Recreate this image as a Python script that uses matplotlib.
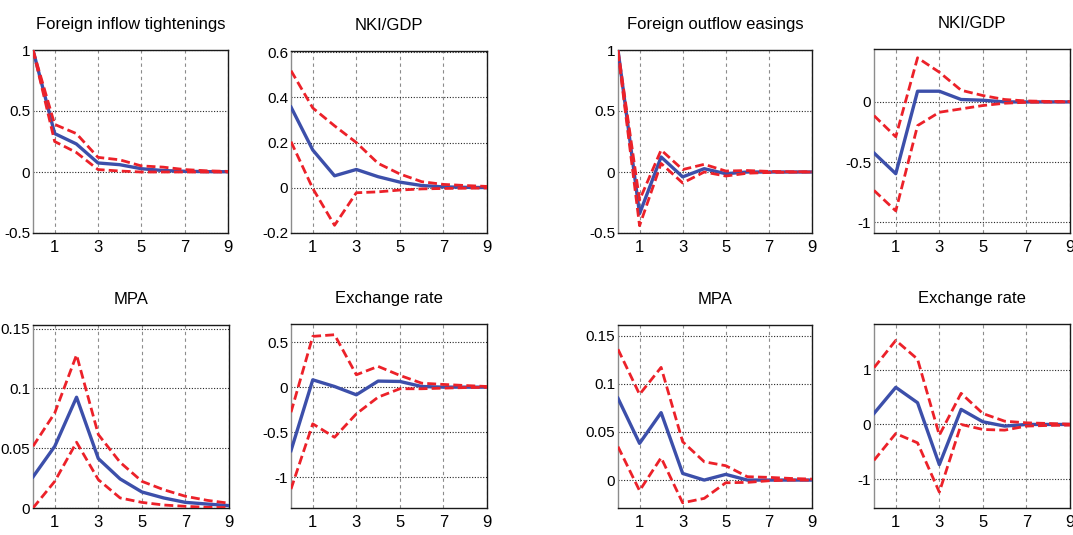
"""Impulse responses: foreign inflow tightenings vs foreign outflow easings (8 panels)."""
import matplotlib
matplotlib.use("Agg")
import matplotlib.pyplot as plt
from matplotlib.ticker import FuncFormatter

plt.rcParams.update({
    "font.family": ["Liberation Sans", "DejaVu Sans"],
    "font.size": 12,
})

horizon = list(range(10))

# left block: foreign inflow tightenings
inflow_med = [1.0, 0.315, 0.23, 0.074, 0.06, 0.027, 0.012, 0.006, 0.003, 0.002]
inflow_hi = [1.0, 0.39, 0.315, 0.12, 0.10, 0.05, 0.04, 0.02, 0.01, 0.005]
inflow_lo = [1.0, 0.25, 0.16, 0.02, 0.008, 0.0, 0.0, 0.0, 0.0, 0.0]

nki_in_med = [0.357, 0.167, 0.053, 0.081, 0.049, 0.025, 0.01, 0.004, 0.002, 0.001]
nki_in_hi = [0.518, 0.353, 0.274, 0.20, 0.108, 0.061, 0.027, 0.015, 0.01, 0.006]
nki_in_lo = [0.204, -0.003, -0.166, -0.022, -0.018, -0.01, -0.005, -0.003, -0.002, -0.001]

mpa_in_med = [0.026, 0.0516, 0.0926, 0.0413, 0.0243, 0.0134, 0.0084, 0.0047, 0.0033, 0.002]
mpa_in_hi = [0.0516, 0.0795, 0.128, 0.0614, 0.0382, 0.0223, 0.0153, 0.0098, 0.0064, 0.004]
mpa_in_lo = [0.0, 0.0223, 0.055, 0.0237, 0.0084, 0.0047, 0.0025, 0.0014, 0.0006, 0.0003]

fx_in_med = [-0.704, 0.081, 0.007, -0.085, 0.067, 0.063, 0.007, 0.0, 0.0, 0.0]
fx_in_hi = [-0.278, 0.563, 0.581, 0.137, 0.23, 0.13, 0.044, 0.03, 0.018, 0.007]
fx_in_lo = [-1.13, -0.407, -0.556, -0.296, -0.111, -0.018, -0.018, -0.011, -0.005, -0.002]

# right block: foreign outflow easings
outflow_med = [1.0, -0.342, 0.123, -0.04, 0.027, -0.014, 0.0, 0.0, 0.0, 0.0]
outflow_hi = [1.0, -0.23, 0.18, 0.02, 0.063, 0.008, 0.012, 0.005, 0.002, 0.002]
outflow_lo = [0.98, -0.44, 0.07, -0.09, 0.0, -0.033, -0.01, -0.004, -0.001, 0.0]

nki_out_med = [-0.425, -0.597, 0.089, 0.089, 0.02, 0.014, 0.0, 0.0, 0.0, 0.0]
nki_out_hi = [-0.114, -0.29, 0.367, 0.247, 0.097, 0.053, 0.02, 0.008, 0.004, 0.003]
nki_out_lo = [-0.736, -0.906, -0.197, -0.086, -0.058, -0.03, -0.011, -0.003, -0.001, 0.0]

mpa_out_med = [0.0849, 0.0381, 0.07, 0.0069, 0.0, 0.0059, 0.0, 0.0, 0.0, 0.0]
mpa_out_hi = [0.1358, 0.089, 0.117, 0.0398, 0.019, 0.0149, 0.0035, 0.0028, 0.0017, 0.001]
mpa_out_lo = [0.0347, -0.011, 0.0232, -0.0236, -0.019, -0.0028, -0.0024, -0.0007, 0.0, 0.0]

fx_out_med = [0.202, 0.68, 0.398, -0.736, 0.276, 0.049, -0.03, 0.0, 0.0, 0.0]
fx_out_hi = [1.04, 1.54, 1.196, -0.196, 0.57, 0.2, 0.06, 0.03, 0.018, 0.006]
fx_out_lo = [-0.656, -0.166, -0.337, -1.24, 0.0, -0.092, -0.104, -0.03, -0.018, -0.012]

# (title, med, hi, lo, ylim, yticks, box in px: left, right, top, bottom)
panels = [
    ("Foreign inflow tightenings", inflow_med, inflow_hi, inflow_lo,
     (-0.5, 1.0), [-0.5, 0, 0.5, 1], (33, 228, 50, 233)),
    ("NKI/GDP", nki_in_med, nki_in_hi, nki_in_lo,
     (-0.2, 0.605), [-0.2, 0, 0.2, 0.4, 0.6], (291, 487, 51, 233)),
    ("Foreign outflow easings", outflow_med, outflow_hi, outflow_lo,
     (-0.5, 1.0), [-0.5, 0, 0.5, 1], (618, 812, 50, 233)),
    ("NKI/GDP", nki_out_med, nki_out_hi, nki_out_lo,
     (-1.09, 0.44), [-1, -0.5, 0], (874, 1070, 49, 233)),
    ("MPA", mpa_in_med, mpa_in_hi, mpa_in_lo,
     (0, 0.153), [0, 0.05, 0.1, 0.15], (33, 229, 325, 508)),
    ("Exchange rate", fx_in_med, fx_in_hi, fx_in_lo,
     (-1.34, 0.7), [-1, -0.5, 0, 0.5], (291, 487, 324, 508)),
    ("MPA", mpa_out_med, mpa_out_hi, mpa_out_lo,
     (-0.029, 0.161), [0, 0.05, 0.1, 0.15], (618, 812, 325, 508)),
    ("Exchange rate", fx_out_med, fx_out_hi, fx_out_lo,
     (-1.53, 1.84), [-1, 0, 1], (874, 1070, 324, 508)),
]

W, H = 1073, 535
fig = plt.figure(figsize=(W / 100, H / 100), dpi=100)

BLUE = "#3C4FAA"
RED = "#EC2129"

for title, med, hi, lo, ylim, yticks, (l, r, t, b) in panels:
    ax = fig.add_axes([l / W, 1 - b / H, (r - l) / W, (b - t) / H])
    ax.plot(horizon, med, color=BLUE, lw=2.4, zorder=3)
    for band in (hi, lo):
        ax.plot(horizon, band, color=RED, lw=2.0, ls=(0, (3.2, 1.5)), zorder=4)

    ax.set_xlim(0, 9)
    ax.set_ylim(*ylim)
    ax.set_xticks([1, 3, 5, 7, 9])
    ax.set_yticks(yticks)
    ax.yaxis.set_major_formatter(FuncFormatter(lambda v, _: f"{v:g}"))
    ax.tick_params(axis="y", length=0, labelsize=11, pad=2)
    ax.tick_params(axis="x", length=0, labelsize=12, pad=5)

    ax.xaxis.grid(True, ls=(0, (3, 3)), color="0.55", lw=0.8)
    ax.yaxis.grid(True, ls=(0, (1, 1.5)), color="0.15", lw=0.8)
    ax.set_axisbelow(True)
    for side, sp in ax.spines.items():
        sp.set_color("0.55" if side == "left" else "0.1")
        sp.set_linewidth(1.0)

    ax.set_title(title, fontsize=12, pad=15)

fig.savefig("out.png", dpi=100)
